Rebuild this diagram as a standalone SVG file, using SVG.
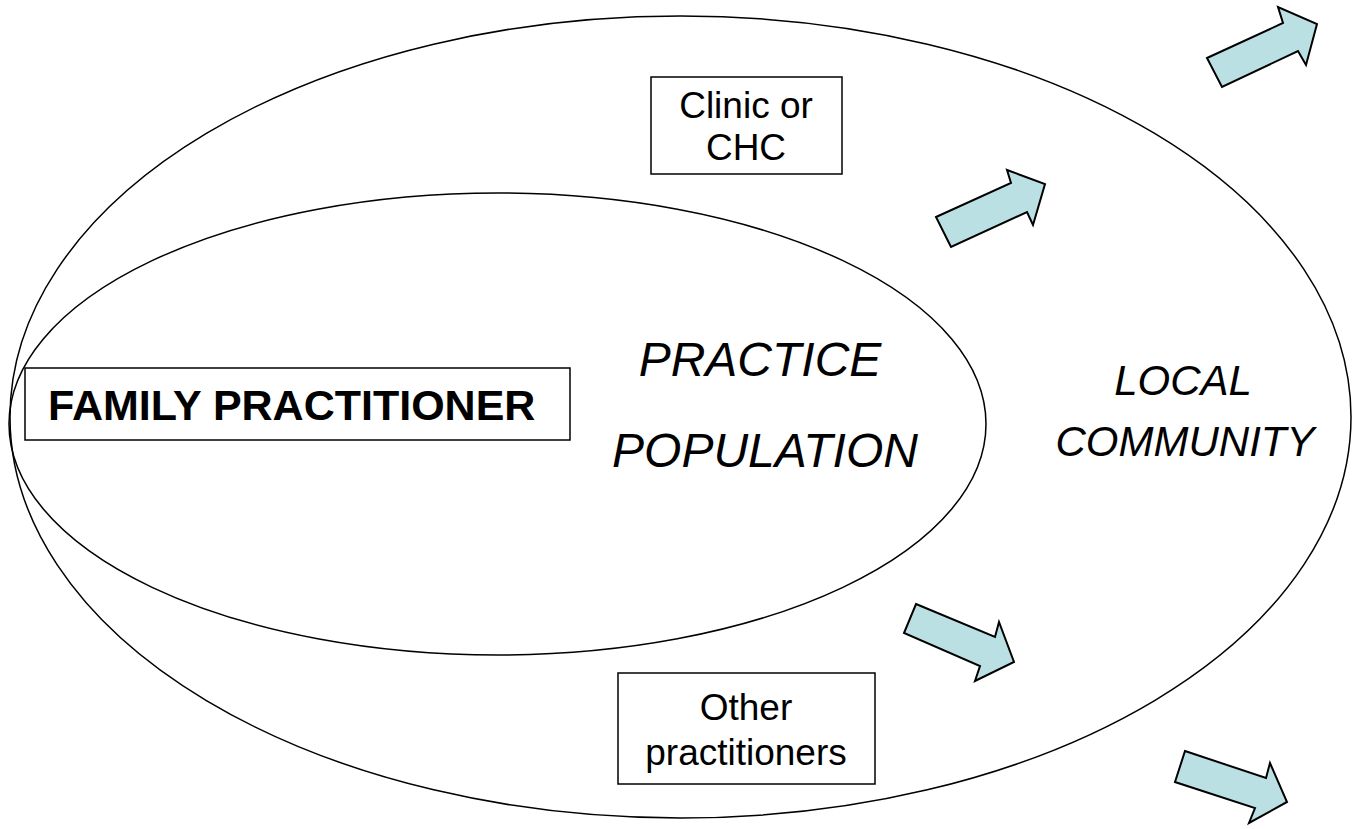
<svg xmlns="http://www.w3.org/2000/svg" width="1354" height="829" viewBox="0 0 1354 829">
<style>
.ell{fill:none;stroke:#000;stroke-width:1.5}
.box{fill:#fff;stroke:#000;stroke-width:1.5}
.arr{fill:#BBE0E3;stroke:#000;stroke-width:2;stroke-linejoin:miter}
.t{font-family:"Liberation Sans",Arial,sans-serif;fill:#000}
.it{font-style:italic}
.sm{font-size:37px}
</style>
<rect width="1354" height="829" fill="#fff"/>
<g id="local-community">
<ellipse class="ell" cx="680.5" cy="417" rx="670.5" ry="401"/>
<text class="t it" x="1183" y="395" font-size="42" text-anchor="middle">LOCAL</text>
<text class="t it" x="1185" y="456" font-size="42" text-anchor="middle">COMMUNITY</text>
</g>
<g id="practice-population">
<ellipse class="ell" cx="497.5" cy="424" rx="488.5" ry="231"/>
<text class="t it" x="760" y="376" font-size="48" text-anchor="middle">PRACTICE</text>
<text class="t it" x="765" y="467" font-size="48" text-anchor="middle">POPULATION</text>
</g>
<g id="family-practitioner">
<rect class="box" x="25" y="368" width="545" height="72"/>
<text class="t" x="48" y="420" font-size="43" font-weight="bold">FAMILY PRACTITIONER</text>
</g>
<g id="clinic">
<rect class="box" x="651" y="77" width="191" height="97"/>
<text class="t sm" x="746" y="118" text-anchor="middle">Clinic or</text>
<text class="t sm" x="746" y="160" text-anchor="middle">CHC</text>
</g>
<g id="other-practitioners">
<rect class="box" x="618" y="673" width="257" height="111"/>
<text class="t sm" x="746" y="720" text-anchor="middle">Other</text>
<text class="t sm" x="746" y="765" text-anchor="middle">practitioners</text>
</g>
<g id="connectors">
<polygon class="arr" points="1207,58 1283,23 1278,7 1317,24 1306,65 1298,51 1222,87"/>
<polygon class="arr" points="936,217 1011,183 1007,170 1045,184 1033,225 1027,212 951,247"/>
<polygon class="arr" points="916,604 995,637 999,622 1014,662 975,681 980,666 904,633"/>
<polygon class="arr" points="1185,751 1266,778 1270,763 1287,802 1249,823 1255,808 1175,782"/>
</g>
</svg>
